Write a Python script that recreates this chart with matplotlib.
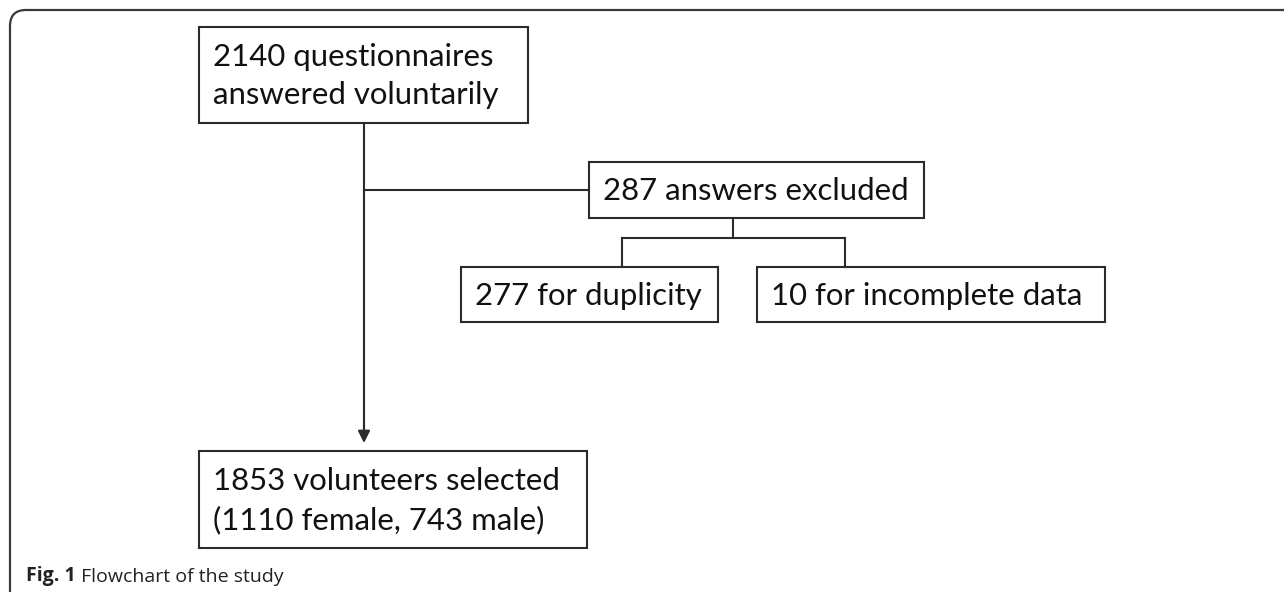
import matplotlib.pyplot as plt
from matplotlib.patches import Rectangle
from matplotlib.path import Path
from matplotlib.patches import PathPatch

# flowchart counts / labels
box_labels = [
    "2140 questionnaires\nanswered voluntarily",
    "287 answers excluded",
    "277 for duplicity",
    "10 for incomplete data",
    "1853 volunteers selected\n(1110 female, 743 male)",
]
caption_bold = "Fig. 1"
caption_text = "Flowchart of the study"

# box layout in pixels: left, top, right, bottom
boxes = [
    (199, 27, 528, 123),
    (589, 162, 924, 218),
    (461, 267, 718, 322),
    (757, 267, 1105, 322),
    (199, 451, 587, 548),
]

W, H = 1284, 592
fig = plt.figure(figsize=(W / 100, H / 100), dpi=100)
ax = fig.add_axes([0, 0, 1, 1])
ax.set_xlim(0, W)
ax.set_ylim(H, 0)
ax.axis('off')

lc = '#2b2b2b'
font = 'Lato'

# outer frame: top and left edge with a rounded corner
r = 16
verts = [(W + 5, 10), (10 + r, 10), (10, 10), (10, 10 + r), (10, H + 5)]
codes = [Path.MOVETO, Path.LINETO, Path.CURVE3, Path.CURVE3, Path.LINETO]
ax.add_patch(PathPatch(Path(verts, codes), fill=False, ec='#3a3a3a', lw=1.6))

for (l, t, rr, b), lab in zip(boxes, box_labels):
    ax.add_patch(Rectangle((l, t), rr - l, b - t, fill=False, ec=lc, lw=1.5))
    ax.text(l + 14, (t + b) / 2 + 1, lab, fontsize=22.4, family=font,
            ha='left', va='center', color='#111111', linespacing=1.45)

# connectors
x_main = 364
ax.plot([x_main, x_main], [123, 440], color=lc, lw=1.5)
ax.plot([x_main, 589], [190, 190], color=lc, lw=1.5)
ax.annotate('', xy=(x_main, 443), xytext=(x_main, 425),
            arrowprops=dict(arrowstyle='-|>', color=lc, lw=1.5,
                            mutation_scale=18, shrinkA=0, shrinkB=0))
ax.plot([733, 733], [218, 238], color=lc, lw=1.5)
ax.plot([622, 845], [238, 238], color=lc, lw=1.5)
ax.plot([622, 622], [238, 267], color=lc, lw=1.5)
ax.plot([845, 845], [238, 267], color=lc, lw=1.5)

# caption
t1 = ax.text(26, 581, caption_bold, fontsize=14, family='Open Sans',
             fontweight='bold', ha='left', va='baseline', color='#222222')
ax.annotate(' ' + caption_text, xycoords=t1, xy=(1, 0), va='bottom',
            fontsize=14, family='Open Sans', color='#222222')

fig.savefig('out.png', dpi=100)
